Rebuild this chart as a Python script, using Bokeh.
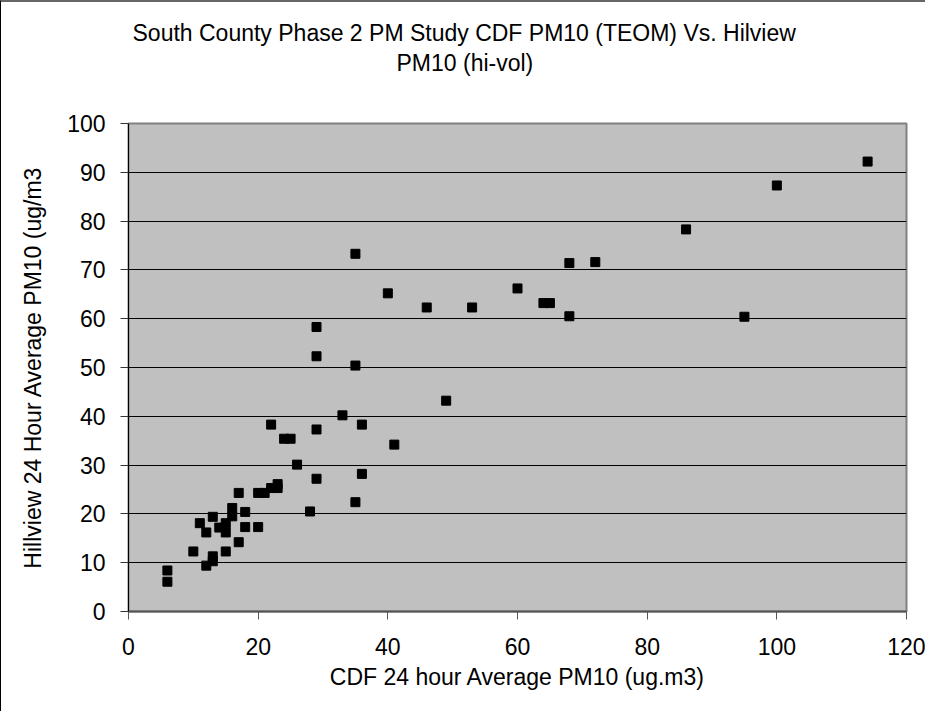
from bokeh.plotting import figure
from bokeh.models import Range1d, SingleIntervalTicker, Title, ColumnDataSource
from bokeh.embed import file_html
from bokeh.resources import INLINE

cdf_pm10 = [6, 6, 10, 11, 12, 12, 13, 13, 13, 14, 15, 15, 15, 16, 16, 17, 17, 18, 18,
            20, 20, 21, 22, 22, 23, 23, 24, 25, 26, 28, 29, 29, 29, 29, 33, 35, 35, 35,
            36, 36, 40, 41, 46, 49, 53, 60, 64, 65, 68, 68, 72, 86, 95, 100, 114]
hillview_pm10 = [8.4, 6.1, 12.3, 18.1, 16.2, 9.4, 19.4, 11.3, 10.3, 17.2, 18.1, 16.2, 12.3,
                 21.2, 19.5, 24.3, 14.2, 20.4, 17.3, 24.3, 17.3, 24.3, 25.3, 38.3, 26.1,
                 25.3, 35.4, 35.4, 30.1, 20.5, 58.3, 52.3, 37.3, 27.2, 40.2, 73.3, 50.4,
                 22.4, 38.3, 28.2, 65.2, 34.2, 62.3, 43.2, 62.3, 66.2, 63.2, 63.2, 71.4,
                 60.5, 71.6, 78.3, 60.4, 87.3, 92.2]

title_line1 = "South County Phase 2 PM Study CDF PM10 (TEOM) Vs. Hilview"
title_line2 = "PM10 (hi-vol)"
x_label = "CDF 24 hour Average PM10 (ug.m3)"
y_label = "Hillview 24 Hour Average PM10 (ug/m3"

FONT = "Liberation Sans"

p = figure(width=925, height=711, output_backend="svg", toolbar_location=None,
           x_range=Range1d(0, 120), y_range=Range1d(0, 100),
           min_border_left=127, min_border_right=20, min_border_top=121,
           min_border_bottom=102, background_fill_color="#c0c0c0",
           border_fill_color="white")

p.styles = {"border-left": "1px solid #000000", "border-top": "2px solid #666666"}

# spacer between the title block and the plot area
spacer = Title(text=" ", standoff=20, text_font=FONT, text_font_size="23px")
t2 = Title(text=title_line2, align="left", offset=268, standoff=0,
           text_font=FONT, text_font_size="23px", text_font_style="normal",
           text_color="black")
t1 = Title(text=title_line1, align="left", offset=4, standoff=4,
           text_font=FONT, text_font_size="23px", text_font_style="normal",
           text_color="black")
p.add_layout(spacer, "above")
p.add_layout(t2, "above")
p.add_layout(t1, "above")

src = ColumnDataSource(dict(x=cdf_pm10, y=hillview_pm10))
p.scatter("x", "y", source=src, marker="square", size=9, fill_color="black",
          line_color="black")

p.outline_line_color = "#808080"
p.outline_line_width = 2

p.xgrid.visible = False
p.ygrid.grid_line_color = "black"
p.ygrid.grid_line_width = 1
p.ygrid.ticker = SingleIntervalTicker(interval=10)

p.xaxis.ticker = SingleIntervalTicker(interval=20)
p.yaxis.ticker = SingleIntervalTicker(interval=10)

for ax in (p.xaxis[0], p.yaxis[0]):
    ax.major_tick_in = 0
    ax.major_tick_out = 8
    ax.minor_tick_in = 0
    ax.minor_tick_out = 0
    ax.major_label_text_font = FONT
    ax.major_label_text_font_size = "23px"
    ax.major_label_text_color = "black"
    ax.axis_label_text_font = FONT
    ax.axis_label_text_font_size = "23px"
    ax.axis_label_text_font_style = "normal"
    ax.axis_label_text_color = "black"

p.xaxis.axis_label = x_label
p.yaxis.axis_label = y_label
p.xaxis.axis_line_color = "#555555"
p.xaxis.axis_line_width = 2
p.xaxis.major_tick_line_color = "#555555"
p.yaxis.axis_line_color = "black"
p.yaxis.major_tick_line_color = "#333333"
p.xaxis.major_label_standoff = 18
p.yaxis.major_label_standoff = 15
p.xaxis.axis_label_standoff = 6
p.yaxis.axis_label_standoff = 18

open("out.html", "w").write(file_html(p, INLINE))
